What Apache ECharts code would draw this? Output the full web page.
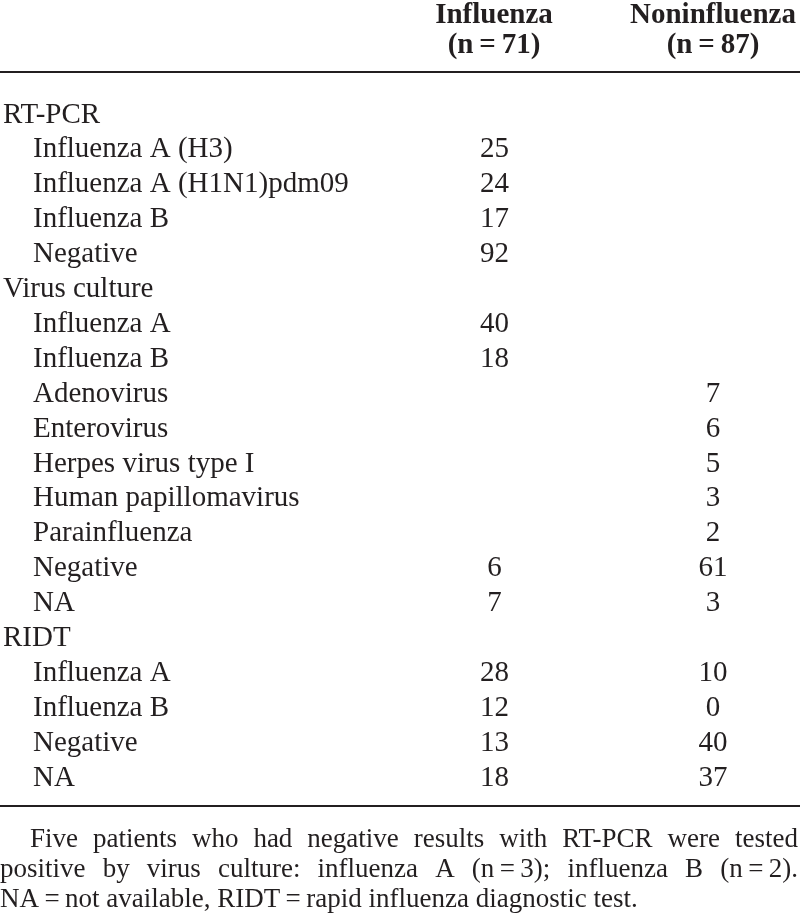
<!DOCTYPE html>
<html>
<head>
<meta charset="utf-8">
<script src="https://cdn.jsdelivr.net/npm/echarts@6/dist/echarts.min.js"></script>
<style>
html, body { margin: 0; padding: 0; background: #fff; }
#main { width: 800px; height: 916px; }
</style>
</head>
<body>
<div id="main"></div>
<script type="text/javascript">
// table rows (level 0 = section header, level 1 = indented item)
var rowLabels = [
    'RT-PCR', 'Influenza A (H3)', 'Influenza A (H1N1)pdm09', 'Influenza B', 'Negative',
    'Virus culture', 'Influenza A', 'Influenza B', 'Adenovirus', 'Enterovirus',
    'Herpes virus type I', 'Human papillomavirus', 'Parainfluenza', 'Negative', 'NA',
    'RIDT', 'Influenza A', 'Influenza B', 'Negative', 'NA'
];
var rowLevel = [0, 1, 1, 1, 1, 0, 1, 1, 1, 1, 1, 1, 1, 1, 1, 0, 1, 1, 1, 1];
var influenzaValues = [null, 25, 24, 17, 92, null, 40, 18, null, null, null, null, null, 6, 7, null, 28, 12, 13, 18];
var noninfluenzaValues = [null, null, null, null, null, null, null, null, 7, 6, 5, 3, 2, 61, 3, null, 10, 0, 40, 37];
var columnHeaders = [
    ['Influenza', '(n\u2009=\u200971)'],
    ['Noninfluenza', '(n\u2009=\u200987)']
];
var footnoteLines = [
    'Five patients who had negative results with RT-PCR were tested',
    'positive by virus culture: influenza A (n\u2009=\u20093); influenza B (n\u2009=\u20092).',
    'NA\u2009=\u2009not available, RIDT\u2009=\u2009rapid influenza diagnostic test.'
];

var FONT = '"Liberation Serif", "Times New Roman", serif';
var INK = '#231f20';
var colX = [494, 713];

function toPoints(values, x) {
    var pts = [];
    values.forEach(function (v, i) {
        if (v !== null) pts.push([x, i, v]);
    });
    return pts;
}

// justified footnote: place each word, spreading the spare room over the gaps
var measureCtx = document.createElement('canvas').getContext('2d');
function footLine(text, x0, x1, y, justify, size) {
    measureCtx.font = size + 'px ' + FONT;
    var words = text.split(' ');
    var widths = words.map(function (w) { return measureCtx.measureText(w).width; });
    var total = widths.reduce(function (a, b) { return a + b; }, 0);
    var gap = justify ? (x1 - x0 - total) / (words.length - 1) : measureCtx.measureText(' ').width;
    var out = [];
    var x = x0;
    words.forEach(function (w, i) {
        out.push({
            type: 'text', x: x, y: y,
            style: { text: w, font: size + 'px ' + FONT, fill: INK, textVerticalAlign: 'middle' }
        });
        x += widths[i] + gap;
    });
    return out;
}

var graphics = [
    { type: 'line', shape: { x1: 0, y1: 72, x2: 800, y2: 72 }, style: { stroke: INK, lineWidth: 2 } },
    { type: 'line', shape: { x1: 0, y1: 806, x2: 800, y2: 806 }, style: { stroke: INK, lineWidth: 2 } }
];
columnHeaders.forEach(function (h, c) {
    h.forEach(function (t, k) {
        graphics.push({
            type: 'text', x: colX[c], y: 16 + k * 30,
            style: { text: t, font: 'bold 29px ' + FONT, fill: INK, textAlign: 'center', textVerticalAlign: 'middle' }
        });
    });
});
graphics = graphics
    .concat(footLine(footnoteLines[0], 30, 798, 840, true, 27))
    .concat(footLine(footnoteLines[1], 0, 798, 870, true, 27))
    .concat(footLine(footnoteLines[2], 0, 798, 900, false, 27));

var chart = echarts.init(document.getElementById('main'));
var cellLabel = {
    show: true,
    position: 'inside',
    fontFamily: FONT,
    fontSize: 29,
    color: INK,
    opacity: 1,
    formatter: function (p) { return String(p.value[2]); }
};
chart.setOption({
    animation: false,
    grid: { left: 0, right: 0, top: 97.5, bottom: 120.5 },
    xAxis: { type: 'value', min: 0, max: 800, show: false },
    yAxis: {
        type: 'category',
        inverse: true,
        data: rowLabels,
        axisLine: { show: false },
        axisTick: { show: false },
        splitLine: { show: false },
        axisLabel: {
            inside: true,
            margin: 2,
            align: 'left',
            interval: 0,
            formatter: function (v, i) {
                return rowLevel[i] ? '{sub|' + v + '}' : '{sec|' + v + '}';
            },
            rich: {
                sec: { fontFamily: FONT, fontSize: 29, color: INK },
                sub: { fontFamily: FONT, fontSize: 29, color: INK, padding: [0, 0, 0, 30] }
            }
        }
    },
    series: [
        {
            name: 'Influenza', type: 'scatter', symbolSize: 1,
            itemStyle: { color: 'rgba(0,0,0,0)', opacity: 1 },
            data: toPoints(influenzaValues, colX[0]), label: cellLabel
        },
        {
            name: 'Noninfluenza', type: 'scatter', symbolSize: 1,
            itemStyle: { color: 'rgba(0,0,0,0)', opacity: 1 },
            data: toPoints(noninfluenzaValues, colX[1]), label: cellLabel
        }
    ],
    graphic: graphics
});
</script>
</body>
</html>
